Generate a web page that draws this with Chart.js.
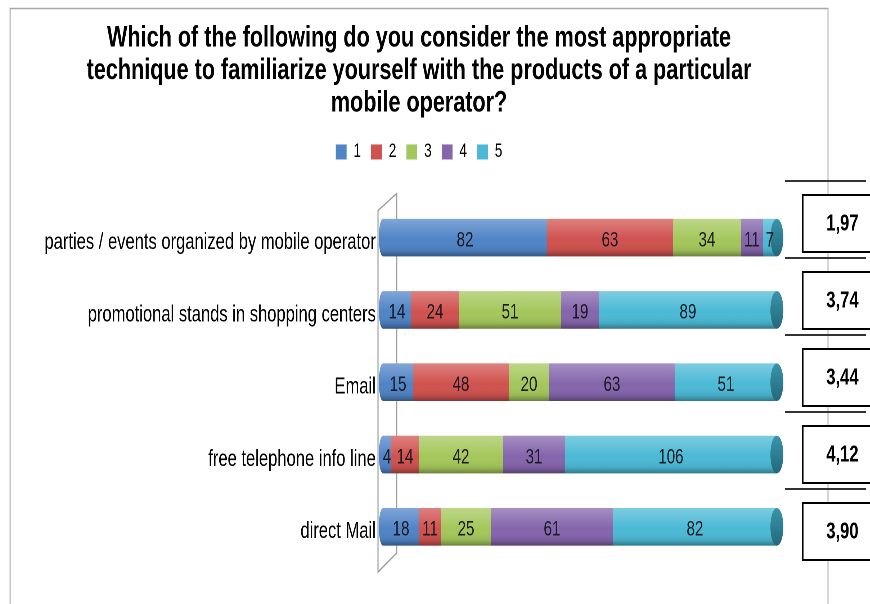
<!DOCTYPE html>
<html>
<head>
<meta charset="utf-8">
<title>Product familiarization techniques</title>
<script src="https://cdn.jsdelivr.net/npm/chart.js@4.4.1/dist/chart.umd.min.js"></script>
<style>
  html, body { margin: 0; padding: 0; background: #fff; overflow: hidden; }
  #wrap { width: 870px; height: 604px; overflow: hidden; }
  /* the chart is laid out wide and squeezed horizontally, like the original export */
  #stage { width: 1208px; height: 604px; transform: scaleX(0.72); transform-origin: 0 0; }
</style>
</head>
<body>
<div id="wrap"><div id="stage"><canvas id="chart" width="1208" height="604"></canvas></div></div>
<script>
const categories = [
    'parties / events organized by mobile operator',
    'promotional stands in shopping centers',
    'Email',
    'free telephone info line',
    'direct Mail'
];
const ratingLabels = ['1', '2', '3', '4', '5'];
const rating1 = [82, 14, 15, 4, 18];
const rating2 = [63, 24, 48, 14, 11];
const rating3 = [34, 51, 20, 42, 25];
const rating4 = [11, 19, 63, 31, 61];
const rating5 = [7, 89, 51, 106, 82];

const titleLines = [
    'Which of the following do you consider the most appropriate',
    'technique to familiarize yourself with the products of a particular',
    'mobile operator?'
];

const FONT = "'Liberation Sans', Arial, sans-serif";
const colors = ['#4F84C6', '#D0524F', '#A4C75B', '#8565AC', '#4BB9D5'];

const series = [rating1, rating2, rating3, rating4, rating5];
const totals = categories.map((c, i) => series.reduce((s, arr) => s + arr[i], 0));

// mean rating per row, printed in the boxes on the right
const averages = categories.map((c, i) => {
    const weighted = series.reduce((s, arr, k) => s + arr[i] * (k + 1), 0);
    return (weighted / totals[i]).toFixed(2).replace('.', ',');
});


const frame = {
    id: 'frame',
    beforeDraw(chart) {
        const ctx = chart.ctx;
        ctx.save();
        ctx.fillStyle = '#fff';
        ctx.fillRect(0, 0, chart.width, chart.height);
        ctx.strokeStyle = '#a8a8a8';
        ctx.lineWidth = 1.4;
        ctx.beginPath();
        ctx.moveTo(14, chart.height);
        ctx.lineTo(14, 8.5);
        ctx.lineTo(1150, 8.5);
        ctx.lineTo(1150, chart.height);
        ctx.stroke();
        ctx.restore();
    }
};

// the slanted side wall of the 3D plot
const wall = {
    id: 'wall',
    beforeDatasetsDraw(chart) {
        const { ctx, chartArea: a } = chart;
        const fx = a.left - 7, bx = a.left + 19;
        ctx.save();
        ctx.strokeStyle = '#9c9c9c';
        ctx.lineWidth = 1.5;
        ctx.beginPath();
        ctx.moveTo(bx, a.bottom - 10);
        ctx.lineTo(bx, a.top - 8);
        ctx.lineTo(fx, a.top + 9);
        ctx.lineTo(fx, a.bottom + 9);
        ctx.lineTo(bx, a.bottom - 10);
        ctx.stroke();
        ctx.restore();
    }
};

// shade each stacked row as a cylinder and write the values on it
const cylinders = {
    id: 'cylinders',
    afterDatasetsDraw(chart) {
        const ctx = chart.ctx;
        const n = chart.data.datasets.length;
        categories.forEach((c, i) => {
            const first = chart.getDatasetMeta(0).data[i].getProps(['x', 'y', 'base', 'height'], true);
            const last = chart.getDatasetMeta(n - 1).data[i].getProps(['x', 'y', 'base', 'height'], true);
            const left = first.base, right = last.x, y = first.y, h = first.height;
            const top = y - h / 2;
            ctx.save();
            ctx.fillStyle = colors[0];
            ctx.beginPath();
            ctx.ellipse(left, y, 6, h / 2, 0, Math.PI / 2, Math.PI * 1.5);
            ctx.fill();

            const g = ctx.createLinearGradient(0, top, 0, top + h);
            g.addColorStop(0, 'rgba(255,255,255,0.28)');
            g.addColorStop(0.3, 'rgba(255,255,255,0.12)');
            g.addColorStop(0.55, 'rgba(255,255,255,0)');
            g.addColorStop(0.85, 'rgba(0,0,0,0.08)');
            g.addColorStop(1, 'rgba(0,0,0,0.35)');
            ctx.fillStyle = g;
            ctx.beginPath();
            ctx.ellipse(left, y, 6, h / 2, 0, Math.PI / 2, Math.PI * 1.5);
            ctx.lineTo(right, top);
            ctx.lineTo(right, top + h);
            ctx.closePath();
            ctx.fill();

            const cg = ctx.createLinearGradient(0, top, 0, top + h);
            cg.addColorStop(0, '#3A94AB');
            cg.addColorStop(1, '#24687C');
            ctx.fillStyle = cg;
            ctx.beginPath();
            ctx.ellipse(right, y, 9, h / 2, 0, 0, Math.PI * 2);
            ctx.fill();
            ctx.restore();
        });

        ctx.save();
        ctx.font = '21px ' + FONT;
        ctx.fillStyle = '#1c1c24';
        ctx.textAlign = 'center';
        ctx.textBaseline = 'middle';
        chart.data.datasets.forEach((ds, d) => {
            chart.getDatasetMeta(d).data.forEach((bar, i) => {
                const p = bar.getProps(['x', 'y', 'base'], true);
                ctx.fillText(String(ds.data[i]), (p.x + p.base) / 2, p.y + 3);
            });
        });
        ctx.restore();
    }
};

// mean rating boxes on the right edge
const meanBoxes = {
    id: 'meanBoxes',
    afterDraw(chart) {
        const ctx = chart.ctx;
        ctx.save();
        ctx.strokeStyle = '#333';
        ctx.lineWidth = 2;
        for (let k = 0; k < averages.length; k++) {
            const ly = 181 + 77 * k;
            ctx.beginPath();
            ctx.moveTo(1090, ly);
            ctx.lineTo(1203, ly);
            ctx.stroke();
        }
        ctx.font = 'bold 23px ' + FONT;
        ctx.textAlign = 'center';
        ctx.textBaseline = 'middle';
        averages.forEach((v, k) => {
            const by = 195 + 77 * k;
            ctx.fillStyle = '#fff';
            ctx.fillRect(1115, by, 100, 57);
            ctx.strokeStyle = '#000';
            ctx.strokeRect(1115, by, 100, 57);
            ctx.fillStyle = '#000';
            ctx.fillText(v, 1170, by + 29);
        });
        ctx.restore();
    }
};

const legendGap = {
    id: 'legendGap',
    beforeInit(chart) {
        const fit = chart.legend.fit;
        chart.legend.fit = function () {
            fit.call(this);
            this.height += 30;
        };
    }
};

new Chart(document.getElementById('chart'), {
    type: 'bar',
    data: {
        labels: categories,
        datasets: series.map((arr, k) => ({
            label: ratingLabels[k],
            data: arr,
            backgroundColor: colors[k],
            borderWidth: 0,
            barPercentage: 0.52,
            categoryPercentage: 1
        }))
    },
    options: {
        indexAxis: 'y',
        responsive: false,
        animation: false,
        devicePixelRatio: 2,
        layout: { padding: { left: 0, right: 44, top: 0, bottom: 41 } },
        scales: {
            x: {
                stacked: true,
                display: false,
                min: 0,
                max: Math.max(...totals)
            },
            y: {
                stacked: true,
                grid: { display: false, drawTicks: false },
                border: { display: false },
                ticks: {
                    padding: 10,
                    labelOffset: 5,
                    color: '#000',
                    font: { family: FONT, size: 23 }
                },
                afterFit(scale) { scale.width = 532; }
            },
            // empty right-hand strip that keeps room for the mean boxes
            side: {
                type: 'category',
                position: 'right',
                grid: { display: false, drawTicks: false },
                border: { display: false },
                ticks: { display: false },
                afterFit(scale) { scale.width = 85; }
            }
        },
        plugins: {
            title: {
                display: true,
                text: titleLines,
                color: '#000',
                font: { family: FONT, size: 30, weight: 'bold', lineHeight: 1.083 },
                padding: { top: 22, bottom: 9 }
            },
            legend: {
                position: 'top',
                labels: {
                    boxWidth: 15,
                    boxHeight: 15,
                    padding: 14,
                    color: '#000',
                    font: { family: FONT, size: 19 }
                }
            },
            tooltip: { enabled: false }
        }
    },
    plugins: [frame, wall, cylinders, meanBoxes, legendGap]
});
</script>
</body>
</html>
